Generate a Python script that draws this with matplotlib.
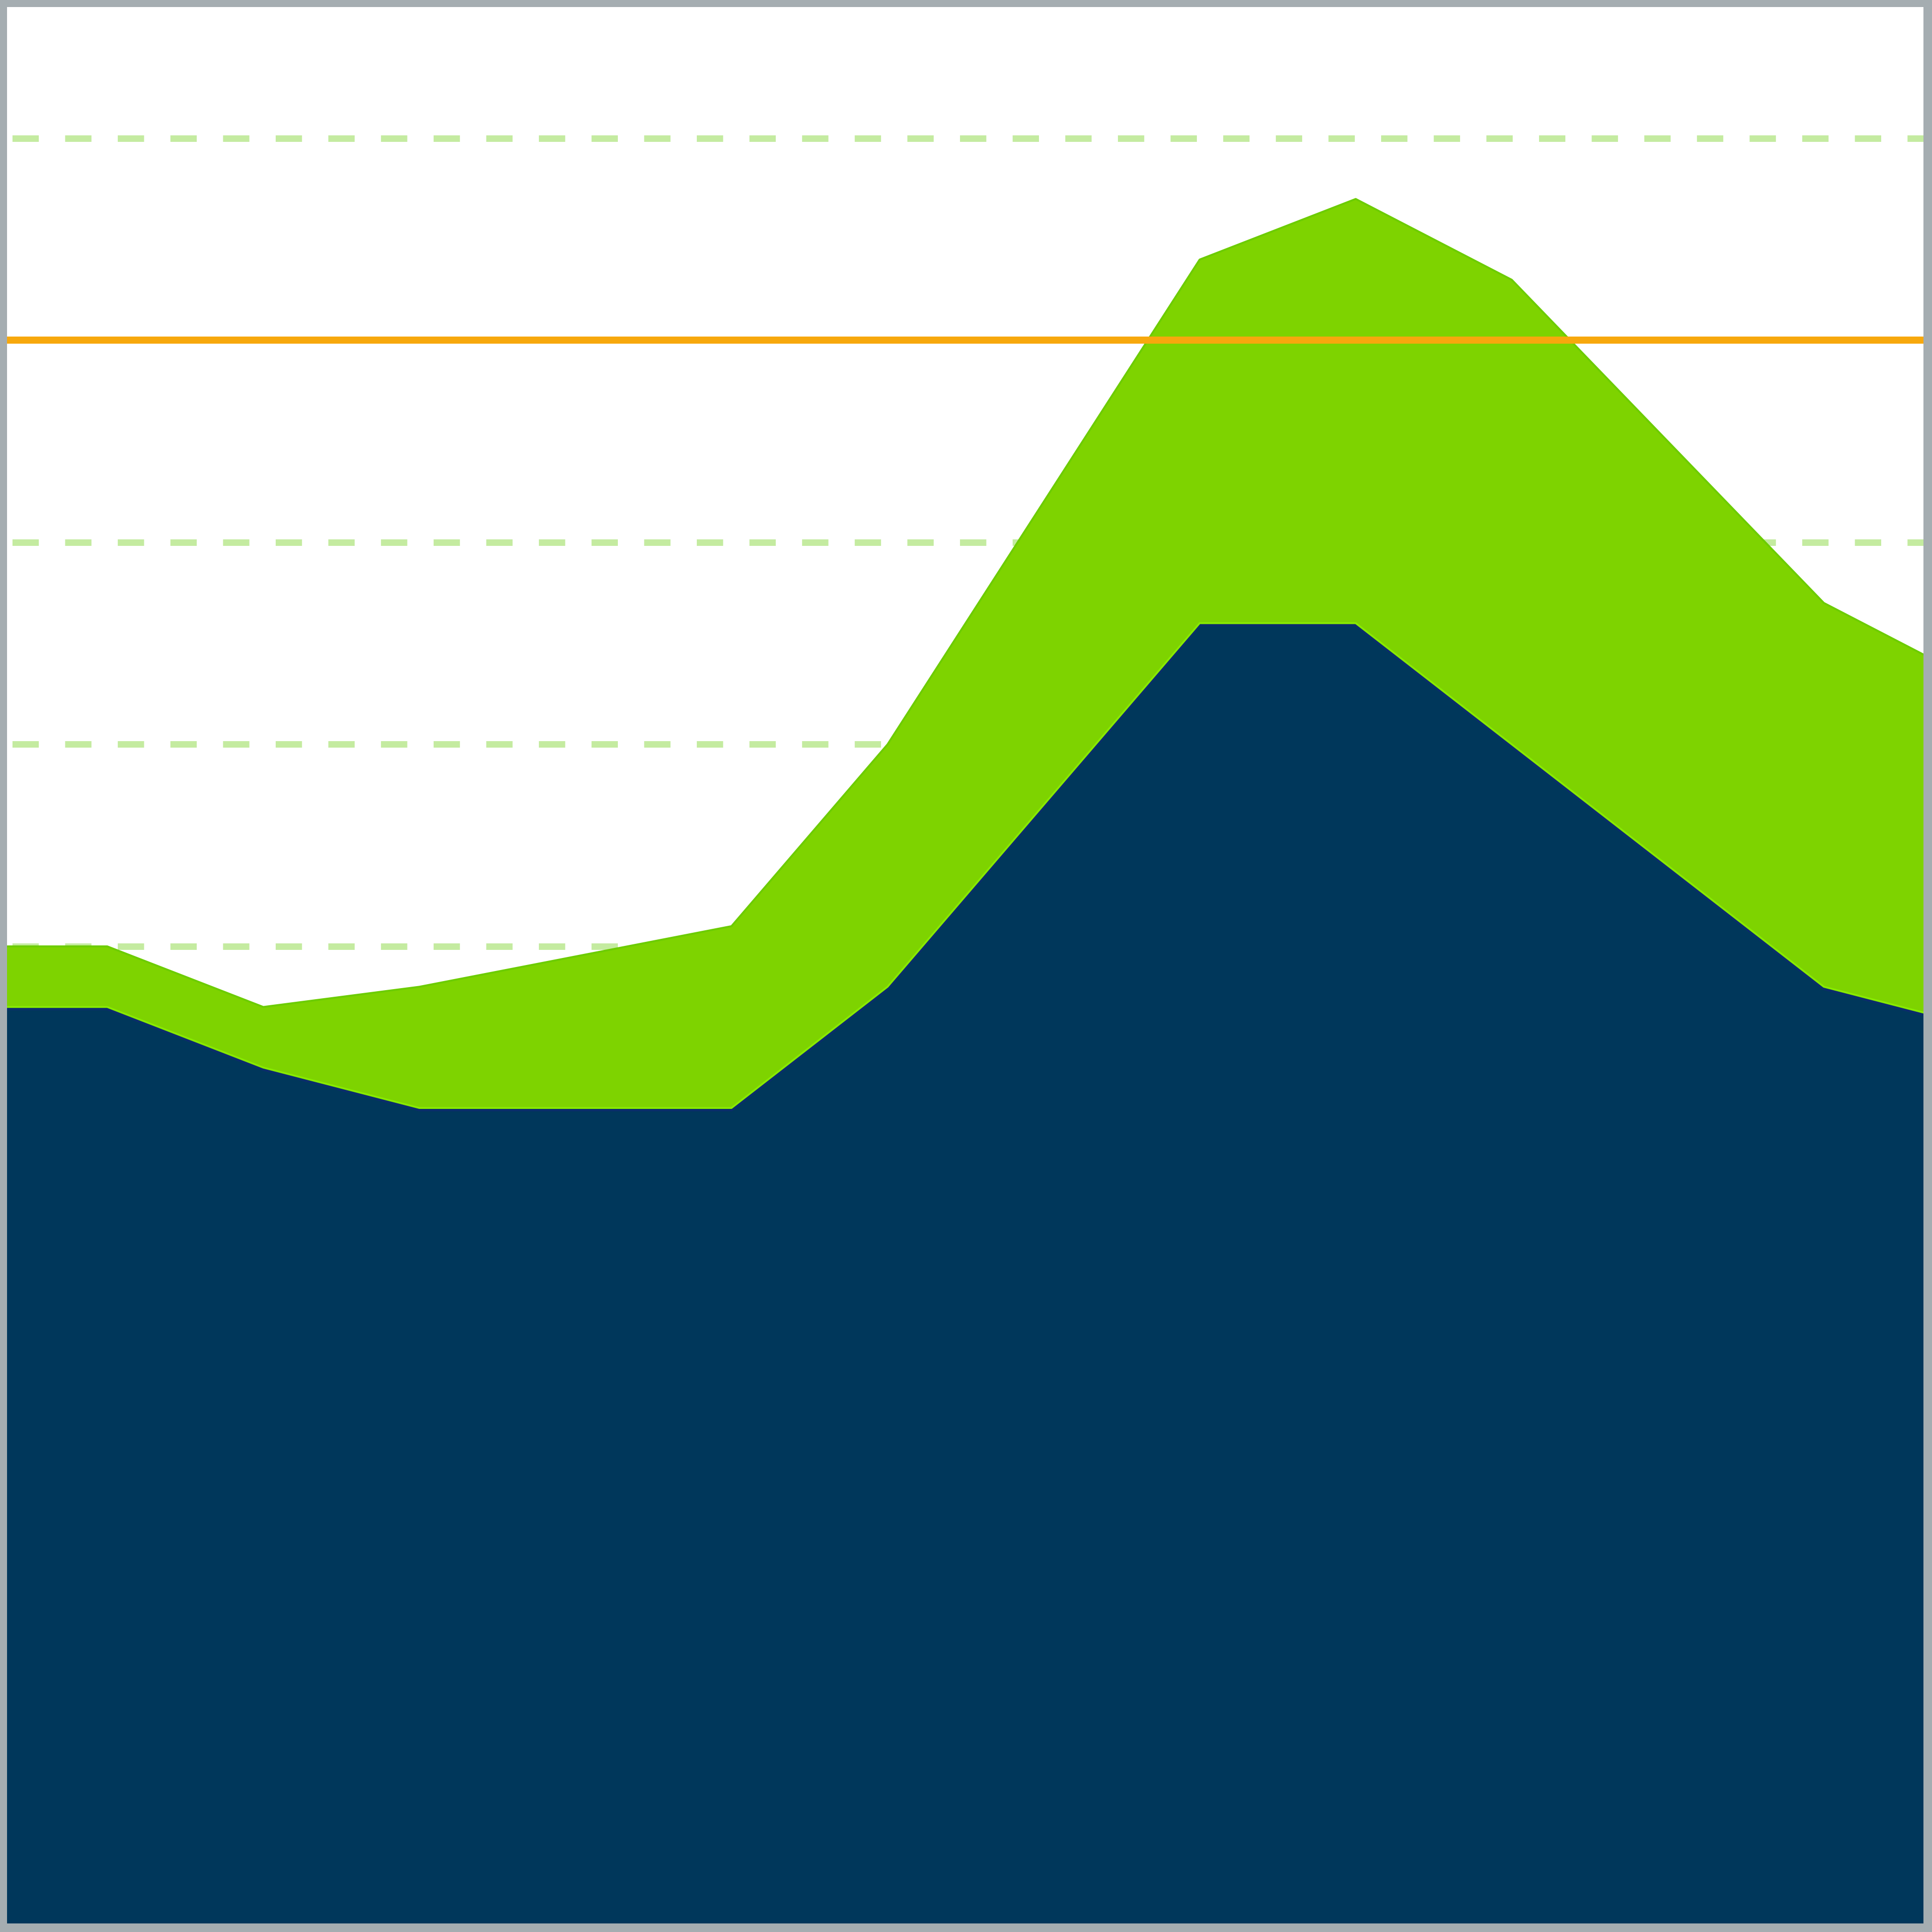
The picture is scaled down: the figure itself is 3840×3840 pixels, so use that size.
import matplotlib
matplotlib.use('Agg')
import matplotlib.pyplot as plt
import matplotlib.patheffects as pe
import numpy as np

# values (index = period)
periods = np.arange(14)
base_vals = [47, 47, 44, 42, 42, 42, 48, 57, 66, 66, 60, 54, 48, 46]
extra_vals = [3, 3, 3, 6, 7.5, 9, 12, 15, 18, 21, 23, 21, 19, 17]
target = 80
grid_vals = [10, 20, 30, 40, 50, 60, 70, 80, 90]

navy = '#00375b'
green = '#7ed300'
orange = '#f7a80d'

W = 3840.
fig = plt.figure(figsize=[12.8, 12.8], dpi=300, facecolor='#a5adb1')
ax = fig.add_axes([14 / W, 17 / W, 3809 / W, 3809 / W])
ax.set_facecolor('white')

ax.stackplot(periods, base_vals, extra_vals, colors=[navy, green],
             linewidth=0, zorder=2)

top_vals = np.array(base_vals) + np.array(extra_vals)
ax.plot(periods, top_vals, color='#6ccc00', lw=0.9, zorder=2.5)
ax.plot(periods, base_vals, color='#88ea00', lw=0.9, zorder=2.6,
        path_effects=[pe.Stroke(linewidth=1.6, foreground='#0a2d6b', offset=(0, -0.8)),
                      pe.Normal()])

ax.axhline(target, color=orange, lw=3.4, zorder=3)

ax.set_yticks(grid_vals)
ax.yaxis.grid(True, color='#c4eba0', linestyle=(7.3, (4.05, 4.05)), linewidth=3.1)
ax.xaxis.grid(False)
ax.set_axisbelow(True)
ax.tick_params(length=0, labelleft=False, labelbottom=False)
for sp in ax.spines.values():
    sp.set_visible(False)

ax.set_xlim(0.358, 12.638)
ax.set_ylim(1.63, 96.5)

plt.savefig('out.png', dpi=300, facecolor=fig.get_facecolor())
